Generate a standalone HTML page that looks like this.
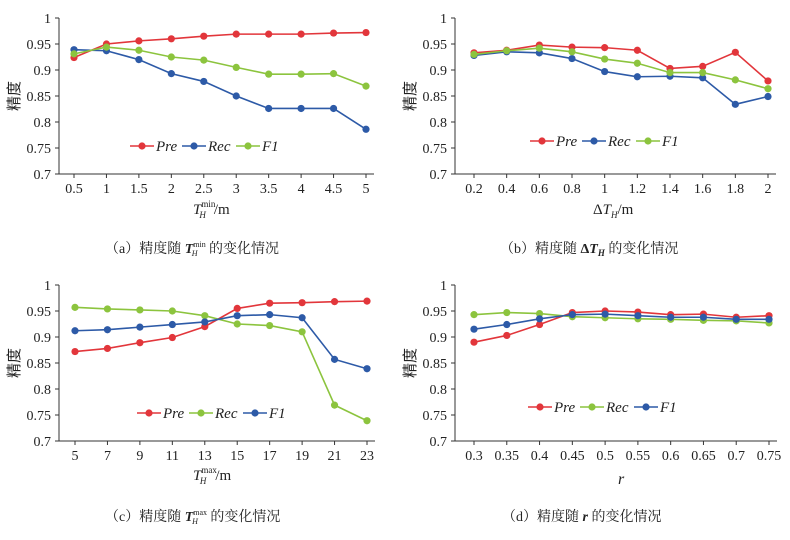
<!DOCTYPE html>
<html><head><meta charset="utf-8"><style>
body{margin:0;background:#fff;width:790px;height:535px;overflow:hidden}
svg{font-family:"Liberation Serif","Noto Serif CJK SC",serif}
</style></head><body>
<svg id="s" width="790" height="535"></svg>
<script>
const RED="#e2363b",BLUE="#2d5aa7",GREEN="#8cc43e";
const yTicks=[0.7,0.75,0.8,0.85,0.9,0.95,1];
const yTickLabels=["0.7","0.75","0.8","0.85","0.9","0.95","1"];
const catsA=["0.5","1","1.5","2","2.5","3","3.5","4","4.5","5"];
const preA=[.924,.95,.956,.96,.965,.969,.969,.969,.971,.972];
const recA=[.939,.937,.92,.893,.878,.85,.826,.826,.826,.786];
const f1A=[.931,.944,.938,.925,.919,.905,.892,.892,.893,.869];
const catsB=["0.2","0.4","0.6","0.8","1","1.2","1.4","1.6","1.8","2"];
const preB=[.933,.938,.948,.944,.943,.938,.903,.907,.934,.879];
const recB=[.928,.935,.933,.922,.897,.887,.888,.885,.834,.849];
const f1B=[.930,.937,.942,.935,.921,.913,.895,.895,.881,.864];
const catsC=["5","7","9","11","13","15","17","19","21","23"];
const preC=[.872,.878,.889,.899,.92,.955,.965,.966,.968,.969];
const recC=[.957,.954,.952,.95,.941,.925,.922,.91,.769,.739];
const f1C=[.912,.914,.919,.924,.929,.941,.943,.937,.857,.839];
const catsD=["0.3","0.35","0.4","0.45","0.5","0.55","0.6","0.65","0.7","0.75"];
const preD=[.89,.903,.924,.947,.95,.948,.943,.944,.938,.941];
const recD=[.943,.947,.945,.939,.937,.935,.934,.932,.931,.927];
const f1D=[.915,.924,.935,.943,.944,.941,.938,.938,.934,.934];

const svg=document.getElementById('s');
const NS="http://www.w3.org/2000/svg";
function mk(tag,at,parent){const e=document.createElementNS(NS,tag);for(const k in at)e.setAttribute(k,at[k]);(parent||svg).appendChild(e);return e;}

function panel(id,ax,x0,x1,yTop,yBot,cats,series,legX,legY,xtitle,caption,capX,capY){
  const g=mk('g',{});
  
  
  const ys=v=>yBot-(v-0.7)/0.3*(yBot-yTop);
  const xs=i=>x0+i*(x1-x0)/(cats.length-1);
  const a1=mk('line',{x1:ax,y1:yTop,x2:ax,y2:yBot,stroke:'#333','stroke-width':1},g);
  
  const a2=mk('line',{x1:ax,y1:yBot,x2:x1+8,y2:yBot,stroke:'#333','stroke-width':1},g);
  
  yTicks.forEach((v,i)=>{
    mk('line',{x1:ax-4,y1:ys(v),x2:ax,y2:ys(v),stroke:'#333'},g);
    const t=mk('text',{x:ax-8,y:ys(v)+5,'text-anchor':'end','font-size':14,fill:'#222'},g);
    t.textContent=yTickLabels[i];
    
  });
  cats.forEach((c,i)=>{
    mk('line',{x1:xs(i),y1:yBot,x2:xs(i),y2:yBot+4,stroke:'#333'},g);
    const t=mk('text',{x:xs(i),y:yBot+19,'text-anchor':'middle','font-size':14,fill:'#222'},g);
    t.textContent=c;
    
  });
  const yl=mk('text',{x:0,y:0,'font-size':15,fill:'#222','text-anchor':'middle',transform:`translate(${ax-40},${(yTop+yBot)/2}) rotate(-90)`,'font-family':'"Noto Sans CJK SC",sans-serif'},g);
  yl.textContent='精度';
  
  series.forEach(s=>{
    const pl=mk('polyline',{points:s.v.map((v,i)=>xs(i)+','+ys(v)).join(' '),fill:'none',stroke:s.c,'stroke-width':1.6},g);
    
    s.v.forEach((v,i)=>{
      const c=mk('circle',{cx:xs(i),cy:ys(v),r:3.6,fill:s.c},g);
      
    });
  });
  let lx=legX;
  series.forEach(s=>{
    const lg=mk('g',{},g);
    
    mk('line',{x1:lx,y1:legY,x2:lx+24,y2:legY,stroke:s.c,'stroke-width':1.6},lg);
    mk('circle',{cx:lx+12,cy:legY,r:3.6,fill:s.c},lg);
    const t=mk('text',{x:lx+26,y:legY+5,'font-size':15,'font-style':'italic',fill:'#222'},lg);
    t.textContent=s.n;
    lx+=s.n==='Pre'?52:s.n==='Rec'?54:50;
  });
  const xt=mk('g',{},g);xt.innerHTML=xtitle;
  
  const cp=mk('g',{},g);cp.innerHTML=caption;
  
}
const cj='font-family="Liberation Serif,Noto Serif CJK SC,serif"';
panel('a',59,74,366,18,174,catsA,[{n:'Pre',c:RED,v:preA},{n:'Rec',c:BLUE,v:recA},{n:'F1',c:GREEN,v:f1A}],130,146,
 `<text x="193" y="214" font-size="15" fill="#222"><tspan font-style="italic">T</tspan><tspan font-size="9" dy="-7">min</tspan><tspan font-size="9" font-style="italic" dx="-16" dy="11">H</tspan><tspan dx="8" dy="-4">/m</tspan></text>`,
 `<text x="105" y="253" font-size="14" fill="#222" ${cj}>（a）精度随 <tspan font-style="italic" font-weight="bold">T</tspan><tspan font-size="8" dy="-6">min</tspan><tspan font-size="8" font-style="italic" dx="-14" dy="9">H</tspan><tspan dx="8" dy="-3"> 的变化情况</tspan></text>`);
panel('b',455,474,768,18,174,catsB,[{n:'Pre',c:RED,v:preB},{n:'Rec',c:BLUE,v:recB},{n:'F1',c:GREEN,v:f1B}],530,141,
 `<text x="593" y="214" font-size="15" fill="#222">Δ<tspan font-style="italic">T</tspan><tspan font-size="9" font-style="italic" dy="4">H</tspan><tspan dy="-4">/m</tspan></text>`,
 `<text x="500" y="253" font-size="14" fill="#222" ${cj}>（b）精度随 <tspan font-weight="bold">Δ</tspan><tspan font-style="italic" font-weight="bold">T</tspan><tspan font-size="9" font-style="italic" font-weight="bold" dy="3">H</tspan><tspan dy="-3"> 的变化情况</tspan></text>`);
panel('c',59,75,367,285,441,catsC,[{n:'Pre',c:RED,v:preC},{n:'Rec',c:GREEN,v:recC},{n:'F1',c:BLUE,v:f1C}],137,413,
 `<text x="193" y="480" font-size="15" fill="#222"><tspan font-style="italic">T</tspan><tspan font-size="9" dy="-7">max</tspan><tspan font-size="9" font-style="italic" dx="-17" dy="11">H</tspan><tspan dx="9" dy="-4">/m</tspan></text>`,
 `<text x="105" y="521" font-size="14" fill="#222" ${cj}>（c）精度随 <tspan font-style="italic" font-weight="bold">T</tspan><tspan font-size="8" dy="-6">max</tspan><tspan font-size="8" font-style="italic" dx="-15" dy="9">H</tspan><tspan dx="9" dy="-3"> 的变化情况</tspan></text>`);
panel('d',455,474,769,285,441,catsD,[{n:'Pre',c:RED,v:preD},{n:'Rec',c:GREEN,v:recD},{n:'F1',c:BLUE,v:f1D}],528,407,
 `<text x="618" y="484" font-size="16" font-style="italic" fill="#222">r</text>`,
 `<text x="502" y="521" font-size="14" fill="#222" ${cj}>（d）精度随 <tspan font-style="italic" font-weight="bold">r</tspan> 的变化情况</text>`);
</script>
</body></html>
